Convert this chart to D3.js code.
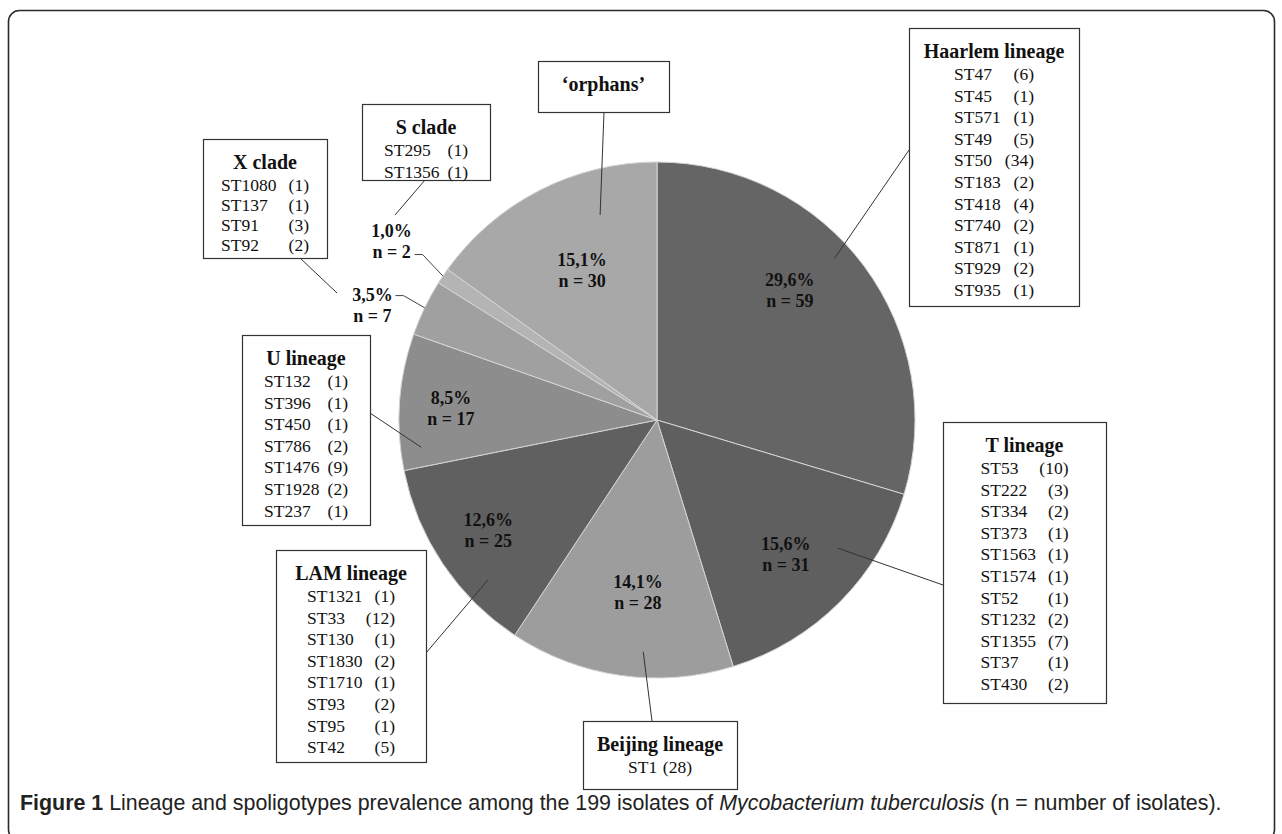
<!DOCTYPE html>
<html>
<head>
<meta charset="utf-8">
<script src="https://cdn.jsdelivr.net/npm/d3@7"></script>
<style>
  body { margin: 0; background: #fff; }
  svg text { font-family: "Liberation Serif", "DejaVu Serif", serif; fill: #111; }
  .row { font-size: 17.5px; }
  .ttl { font-size: 20px; font-weight: bold; }
  .pct { font-size: 18px; font-weight: bold; }
  .cap { font-family: "Liberation Sans Narrow", "Liberation Sans", sans-serif; fill: #222; }
</style>
</head>
<body>
<svg id="fig" width="1282" height="834"></svg>
<script>
'use strict';

// slices, clockwise from 12 o'clock
var lineages = ['Haarlem lineage', 'T lineage', 'Beijing lineage', 'LAM lineage', 'U lineage', 'X clade', 'S clade', '\u2018orphans\u2019'];
var isolates = [59, 31, 28, 25, 17, 7, 2, 30];
var percents = ['29,6%', '15,6%', '14,1%', '12,6%', '8,5%', '3,5%', '1,0%', '15,1%'];

// spoligotypes per lineage
var haarlemST = ['ST47', 'ST45', 'ST571', 'ST49', 'ST50', 'ST183', 'ST418', 'ST740', 'ST871', 'ST929', 'ST935'];
var haarlemN = [6, 1, 1, 5, 34, 2, 4, 2, 1, 2, 1];
var tST = ['ST53', 'ST222', 'ST334', 'ST373', 'ST1563', 'ST1574', 'ST52', 'ST1232', 'ST1355', 'ST37', 'ST430'];
var tN = [10, 3, 2, 1, 1, 1, 1, 2, 7, 1, 2];
var beijingST = ['ST1'];
var beijingN = [28];
var lamST = ['ST1321', 'ST33', 'ST130', 'ST1830', 'ST1710', 'ST93', 'ST95', 'ST42'];
var lamN = [1, 12, 1, 2, 1, 2, 1, 5];
var uST = ['ST132', 'ST396', 'ST450', 'ST786', 'ST1476', 'ST1928', 'ST237'];
var uN = [1, 1, 1, 2, 9, 2, 1];
var xST = ['ST1080', 'ST137', 'ST91', 'ST92'];
var xN = [1, 1, 3, 2];
var sST = ['ST295', 'ST1356'];
var sN = [1, 1];

var spoligo = [[haarlemST, haarlemN], [tST, tN], [beijingST, beijingN], [lamST, lamN],
  [uST, uN], [xST, xN], [sST, sN], [[], []]];

var shades = ['#656565', '#5f5f5f', '#9d9d9d', '#606060', '#8d8d8d', '#a0a0a0', '#b4b4b4', '#a8a8a8'];

var cx = 657, cy = 420, radius = 258;

// label placement: [fraction of radius, angle offset in degrees]
var labelPos = [[0.72, -7.7], [0.72, 1.3], [0.67, -1.8], [0.78, 0.9], [0.80, -0.8], [1.19, -3.7], [1.24, 0], [0.65, 0.6]];

// callout boxes; leader from box point to polar point [frac, deg] or fixed point
var boxes = [
  {x: 909, y: 28, w: 170, h: 278, col: 40, from: [909, 150], to: [0.93, 47.7]},
  {x: 943, y: 422, w: 163, h: 281, col: 44, from: [943, 585], to: [0.86, 125.3]},
  {x: 583, y: 721, w: 154, h: 68, col: 32, from: [652, 721], to: [0.90, 183.4]},
  {x: 276, y: 550, w: 150, h: 212, col: 44, from: [426, 653], to: [0.90, 226.6]},
  {x: 242, y: 335, w: 128, h: 190, col: 42, from: [370, 413], to: [0.92, 263.4]},
  {x: 203, y: 139, w: 124, h: 119, col: 44, from: [300, 258], toXY: [337, 293]},
  {x: 362, y: 104, w: 128, h: 76, col: 42, from: [425, 180], toXY: [395, 215]},
  {x: 538, y: 61, w: 131, h: 51, col: 0, from: [604, 112], to: [0.825, 344.5]}
];

function polar(frac, deg) {
  var a = deg * Math.PI / 180;
  return [cx + frac * radius * Math.sin(a), cy - frac * radius * Math.cos(a)];
}

var svg = d3.select('#fig');

// outer frame
svg.append('rect')
  .attr('x', 8.5).attr('y', 10.5)
  .attr('width', 1266).attr('height', 830)
  .attr('rx', 11)
  .attr('fill', 'none')
  .attr('stroke', '#2a2a2a')
  .attr('stroke-width', 1.6);

var pie = d3.pie().sort(null).value(function (d) { return d; });
var arcs = pie(isolates);
var arc = d3.arc().innerRadius(0).outerRadius(radius);

var g = svg.append('g').attr('transform', 'translate(' + cx + ',' + cy + ')');
g.selectAll('path')
  .data(arcs)
  .enter()
  .append('path')
  .attr('d', arc)
  .attr('fill', function (d, i) { return shades[i]; })
  .attr('stroke', '#d4d4d4')
  .attr('stroke-width', 1);

function midDeg(d) { return (d.startAngle + d.endAngle) / 2 * 180 / Math.PI; }

// leader lines from boxes
boxes.forEach(function (b, i) {
  var end = b.toXY ? b.toXY : polar(b.to[0], midDeg(arcs[i]) * 0 + b.to[1]);
  svg.append('line')
    .attr('x1', b.from[0]).attr('y1', b.from[1])
    .attr('x2', end[0]).attr('y2', end[1])
    .attr('stroke', '#333').attr('stroke-width', 1);
});

// pie labels
arcs.forEach(function (d, i) {
  var p = polar(labelPos[i][0], midDeg(d) + labelPos[i][1]);
  var t = svg.append('text')
    .attr('class', 'pct')
    .attr('text-anchor', 'middle');
  t.append('tspan').attr('x', p[0]).attr('y', p[1] - 4).text(percents[i]);
  t.append('tspan').attr('x', p[0]).attr('y', p[1] + 17).text('n = ' + isolates[i]);

  // outside labels for the small slices get their own leader to the rim
  if (labelPos[i][0] > 1) {
    var edge = polar(1, midDeg(d));
    var sy = i === 5 ? p[1] - 9 : p[1] + 13;
    var sx = p[0] + 23;
    svg.append('polyline')
      .attr('points', [[sx, sy], [sx + 8, sy], edge].map(function (q) { return q.join(','); }).join(' '))
      .attr('fill', 'none')
      .attr('stroke', '#444')
      .attr('stroke-width', 1);
  }
});

// callout boxes
boxes.forEach(function (b, i) {
  var bg = svg.append('g');
  var mid = b.x + b.w / 2;
  bg.append('rect')
    .attr('x', b.x + 0.5).attr('y', b.y + 0.5)
    .attr('width', b.w).attr('height', b.h)
    .attr('fill', '#fff')
    .attr('stroke', '#333')
    .attr('stroke-width', 1.2);
  bg.append('text')
    .attr('class', 'ttl')
    .attr('text-anchor', 'middle')
    .attr('x', mid)
    .attr('y', b.y + 30)
    .text(lineages[i]);

  var names = spoligo[i][0], ns = spoligo[i][1];
  var step = names.length === 4 ? 20 : 21.6;
  names.forEach(function (name, j) {
    var y = b.y + 52 + j * step;
    bg.append('text').attr('class', 'row')
      .attr('x', mid - b.col).attr('y', y)
      .text(name);
    bg.append('text').attr('class', 'row')
      .attr('text-anchor', 'end')
      .attr('x', mid + b.col).attr('y', y)
      .text('(' + ns[j] + ')');
  });
});

// caption
var cap = svg.append('text')
  .attr('class', 'cap')
  .attr('x', 20).attr('y', 810)
  .style('font-size', '19px');
cap.append('tspan').style('font-weight', 'bold').text('Figure 1');
cap.append('tspan').text(' Lineage and spoligotypes prevalence among the 199 isolates of ');
cap.append('tspan').style('font-style', 'italic').text('Mycobacterium tuberculosis');
cap.append('tspan').text(' (n = number of isolates).');
var w = cap.node().getComputedTextLength();
cap.style('font-size', (19 * 1202 / w).toFixed(2) + 'px');
</script>
</body>
</html>
